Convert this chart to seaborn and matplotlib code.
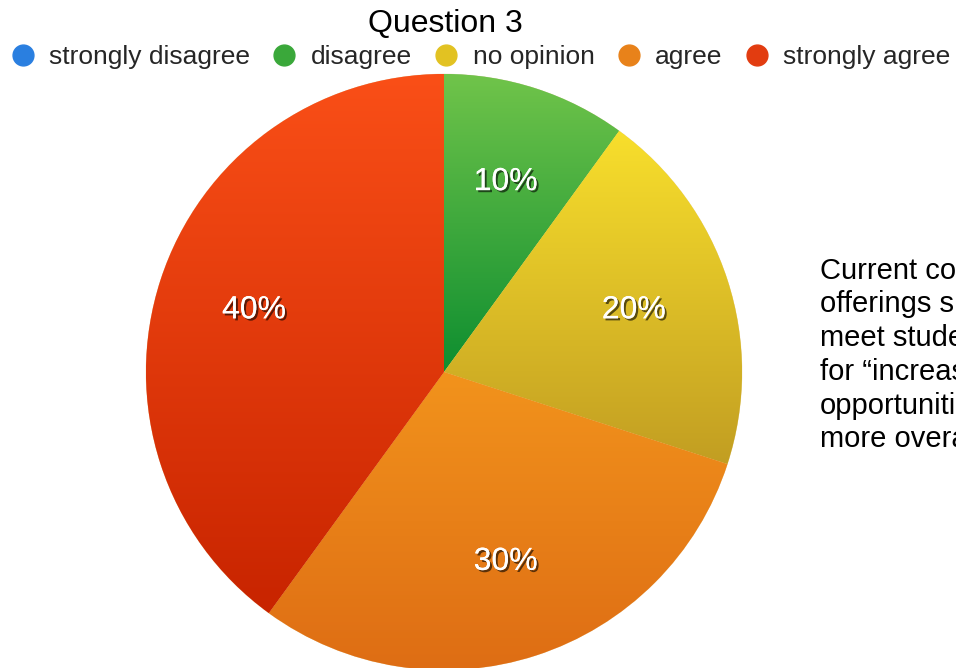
import matplotlib
matplotlib.use("Agg")
import matplotlib.pyplot as plt
import matplotlib.patheffects as pe
from matplotlib.colors import LinearSegmentedColormap
from matplotlib.lines import Line2D
import numpy as np
import seaborn as sns

categories = ['strongly disagree', 'disagree', 'no opinion', 'agree', 'strongly agree']
shares = [0, 10, 20, 30, 40]
top_colors = ['#3a8eea', '#70c44a', '#f8df2c', '#f2931c', '#fa4f17']
bottom_colors = ['#176dd2', '#0e8e30', '#c29e22', '#de6d14', '#c82400']
legend_colors = ['#2a7fe0', '#3aa83a', '#e2c222', '#e8821a', '#e23c10']
side_note = "Current co\nofferings sh\nmeet stude\nfor \u201cincreas\nopportuniti\nmore overa"

sns.set_theme(style="white")
plt.rcParams['font.family'] = ['Liberation Sans', 'DejaVu Sans']

fig = plt.figure(figsize=(9.56, 6.68), dpi=100)
ax = fig.add_axes([146 / 956, -2 / 668, 596 / 956, 596 / 668])


def fmt_pct(p):
    return '' if p < 0.5 else f"{p:.0f}%"


wedges, texts, autotexts = ax.pie(
    shares, colors=legend_colors, startangle=90, counterclock=False,
    autopct=fmt_pct, pctdistance=0.67, radius=1,
    wedgeprops=dict(linewidth=0.4, edgecolor='#f0e0c0'),
    textprops=dict(color='white', fontsize=23),
)

# vertical gradient inside each wedge
grad = np.linspace(1, 0, 256).reshape(-1, 1)
for w, c_top, c_bot in zip(wedges, top_colors, bottom_colors):
    ext = w.get_path().get_extents()
    if ext.height <= 0 or ext.width <= 0:
        continue
    cmap = LinearSegmentedColormap.from_list('g', [c_bot, c_top])
    im = ax.imshow(grad, cmap=cmap, aspect='auto', vmin=0, vmax=1,
                   extent=[ext.x0, ext.x1, ext.y0, ext.y1], zorder=1.5)
    im.set_clip_path(w)

for t in autotexts:
    t.set_zorder(5)
    t.set_path_effects([pe.withSimplePatchShadow(offset=(1.5, -1.5), shadow_rgbFace='black', alpha=0.6),
                        pe.Normal()])

ax.set_xlim(-1, 1)
ax.set_ylim(-1, 1)
ax.set_aspect('equal')
ax.axis('off')

fig.text(445 / 956, 1 - 24 / 668, 'Question 3', ha='center', va='center', fontsize=23, color='black')

handles = [Line2D([0], [0], marker='o', linestyle='', markersize=15,
                  markerfacecolor=c, markeredgecolor=c) for c in legend_colors]
fig.legend(handles, categories, loc='center', bbox_to_anchor=(480 / 956, 1 - 57 / 668), ncol=5,
           frameon=False, fontsize=19, handletextpad=0.5, columnspacing=0.8,
           handlelength=1.0, borderaxespad=0)

# the note runs past the right edge in the original, so it is cut there too
fig.text(820 / 956, 1 - 355 / 668, side_note, ha='left', va='center', fontsize=21,
         linespacing=1.26, color='black')

fig.savefig('out.png', dpi=100, facecolor='white')
